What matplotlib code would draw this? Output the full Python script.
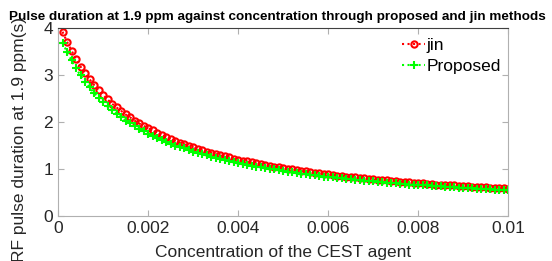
"""
Pulse duration at 1.9 ppm vs concentration: proposed vs jin methods.
"""

import numpy as np
import matplotlib
matplotlib.use('Agg')  # Non-interactive backend
import matplotlib.pyplot as plt

plt.rcParams['font.family'] = ['Liberation Sans', 'DejaVu Sans']

# Concentration grid (0.0001 .. 0.01)
concentration = np.arange(1, 101) * 0.0001

# RF pulse duration (s)
jin = [3.92, 3.71, 3.52, 3.34, 3.18, 3.04, 2.91, 2.79, 2.68, 2.58,
       2.48, 2.39, 2.31, 2.24, 2.16, 2.10, 2.03, 1.97, 1.92, 1.87,
       1.82, 1.77, 1.72, 1.68, 1.64, 1.60, 1.56, 1.53, 1.49, 1.46,
       1.43, 1.40, 1.37, 1.35, 1.32, 1.29, 1.27, 1.25, 1.22, 1.20,
       1.18, 1.16, 1.14, 1.12, 1.10, 1.09, 1.07, 1.05, 1.04, 1.02,
       1.01, 0.99, 0.98, 0.96, 0.95, 0.94, 0.92, 0.91, 0.90, 0.89,
       0.88, 0.86, 0.85, 0.84, 0.83, 0.82, 0.81, 0.80, 0.79, 0.78,
       0.77, 0.77, 0.76, 0.75, 0.74, 0.73, 0.72, 0.72, 0.71, 0.70,
       0.70, 0.69, 0.68, 0.67, 0.67, 0.66, 0.65, 0.65, 0.64, 0.64,
       0.63, 0.62, 0.62, 0.61, 0.61, 0.60, 0.60, 0.59, 0.59, 0.58]

proposed = [3.69, 3.49, 3.31, 3.14, 2.99, 2.86, 2.74, 2.62, 2.52, 2.42,
            2.33, 2.25, 2.17, 2.10, 2.03, 1.97, 1.91, 1.86, 1.80, 1.75,
            1.71, 1.66, 1.62, 1.58, 1.54, 1.50, 1.47, 1.44, 1.40, 1.37,
            1.35, 1.32, 1.29, 1.26, 1.24, 1.22, 1.19, 1.17, 1.15, 1.13,
            1.11, 1.09, 1.07, 1.05, 1.04, 1.02, 1.00, 0.99, 0.97, 0.96,
            0.94, 0.93, 0.92, 0.90, 0.89, 0.88, 0.87, 0.86, 0.84, 0.83,
            0.82, 0.81, 0.80, 0.79, 0.78, 0.77, 0.76, 0.75, 0.75, 0.74,
            0.73, 0.72, 0.71, 0.70, 0.70, 0.69, 0.68, 0.67, 0.67, 0.66,
            0.65, 0.65, 0.64, 0.63, 0.63, 0.62, 0.62, 0.61, 0.60, 0.60,
            0.59, 0.59, 0.58, 0.58, 0.57, 0.57, 0.56, 0.56, 0.55, 0.55]

xticks = [0, 0.002, 0.004, 0.006, 0.008, 0.01]
xticklabels = ['0', '0.002', '0.004', '0.006', '0.008', '0.01']
yticks = [0, 1, 2, 3, 4]

fig = plt.figure(figsize=(5.52, 2.61), dpi=100)
ax = fig.add_axes([58 / 552, 1 - 216 / 261, 450 / 552, 188 / 261])

ax.plot(concentration, jin, linestyle=':', color='#ff0000', linewidth=1.5,
        marker='o', markersize=4.5, markerfacecolor='none', markeredgewidth=1.5,
        label='jin')
ax.plot(concentration, proposed, linestyle=':', color='#00ff00', linewidth=1.5,
        marker='+', markersize=5.5, markeredgewidth=1.5, label='Proposed')

ax.set_xlim(0, 0.01)
ax.set_ylim(0, 4)
ax.set_xticks(xticks)
ax.set_xticklabels(xticklabels)
ax.set_yticks(yticks)
ax.tick_params(direction='in', length=4, width=0.8, colors='#b0b0b0',
               labelcolor='#262626', labelsize=12.5, top=True, right=True)
for side in ['left', 'bottom', 'right']:
    ax.spines[side].set_color('#b0b0b0')
ax.spines['top'].set_color('#404040')

fig.text(0.503, 1 - 17 / 261, 'Pulse duration at 1.9 ppm against concentration through proposed and jin methods',
         ha='center', va='center', fontsize=9.7, fontweight='bold')
fig.text(283 / 552, 1 - 253 / 261, 'Concentration of the CEST agent',
         ha='center', va='center', fontsize=12.5, color='#262626')
fig.text(20 / 552, 1 - 140 / 261, 'RF pulse duration at 1.9 ppm(s)',
         ha='center', va='center', rotation=90, fontsize=12.5, color='#262626')

leg = ax.legend(loc='upper left', bbox_to_anchor=(0.75, 0.985), frameon=False,
                fontsize=12.5, handlelength=1.3, handletextpad=0.1,
                labelspacing=0.35, borderaxespad=0)

fig.savefig('out.png', dpi=100, facecolor='white')
plt.close()
